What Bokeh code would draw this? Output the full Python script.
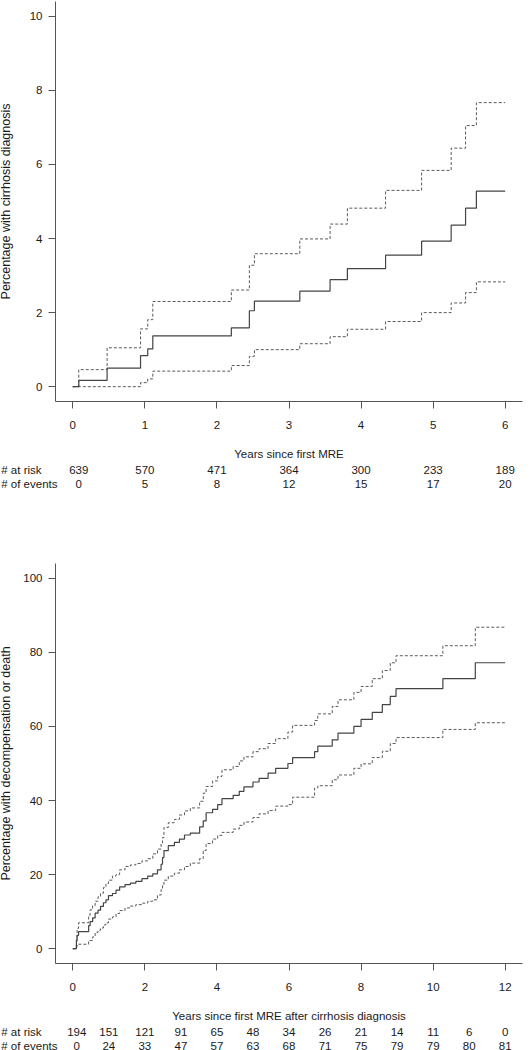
from bokeh.plotting import figure
from bokeh.layouts import column
from bokeh.models import Range1d, FactorRange, ColumnDataSource, FixedTicker
from bokeh.embed import file_html
from bokeh.resources import INLINE
from bokeh.core.properties import value

# ---------------- data: chart 1 (cirrhosis) ----------------
cirr_time = [0, 0.083, 0.476, 0.94, 1.04, 1.11, 2.20, 2.45, 2.52, 3.15, 3.57,
             3.81, 4.34, 4.84, 5.25, 5.45, 5.60, 6.0]
cirr_est = [0, 0.17, 0.50, 0.84, 1.02, 1.37, 1.59, 2.05, 2.31, 2.58, 2.89,
            3.19, 3.55, 3.93, 4.36, 4.82, 5.28, 5.28]
cirr_upper = [0, 0.46, 1.05, 1.56, 1.81, 2.30, 2.61, 3.28, 3.59, 3.99, 4.39,
              4.82, 5.30, 5.84, 6.44, 7.05, 7.67, 7.67]
cirr_lower = [0, 0, 0, 0.11, 0.21, 0.42, 0.57, 0.82, 1.00, 1.16, 1.35,
              1.55, 1.76, 2.00, 2.26, 2.54, 2.83, 2.83]
cirr_years = [0, 1, 2, 3, 4, 5, 6]
cirr_at_risk = [639, 570, 471, 364, 300, 233, 189]
cirr_events = [0, 5, 8, 12, 15, 17, 20]

# ---------------- data: chart 2 (decompensation or death) ----------------
dec_time = [0, 0.10, 0.12, 0.16, 0.44, 0.48, 0.55, 0.62, 0.70, 0.77, 0.85, 0.92,
            0.99, 1.10, 1.20, 1.30, 1.45, 1.60, 1.75, 1.92, 2.08, 2.22, 2.35,
            2.45, 2.49, 2.53, 2.65, 2.82, 2.96, 3.10, 3.26, 3.52, 3.62, 3.70,
            3.88, 4.02, 4.14, 4.45, 4.62, 4.75, 5.00, 5.17, 5.42, 5.63, 5.97,
            6.10, 6.71, 6.80, 7.20, 7.36, 7.80, 8.00, 8.31, 8.59, 8.81, 8.97,
            10.27, 11.17, 12.0]
dec_est = [0, 2.1, 3.6, 4.6, 6.2, 7.3, 8.3, 9.6, 10.4, 11.4, 12.4, 13.2, 14.3,
           14.9, 15.8, 16.7, 17.3, 17.7, 18.2, 18.9, 19.6, 20.2, 21.3, 22.8,
           24.6, 26.5, 27.8, 28.7, 29.6, 30.7, 31.2, 32.9, 34.5, 36.7, 37.6,
           38.9, 40.5, 41.4, 42.5, 43.7, 45.0, 46.0, 47.4, 48.7, 50.0, 51.6,
           53.2, 54.7, 56.4, 58.2, 60.0, 61.9, 63.8, 65.9, 68.1, 70.2, 72.9,
           77.2, 77.2]
dec_upper = [0, 3.0, 5.5, 7.0, 9.0, 10.5, 11.6, 12.8, 14.0, 15.0, 16.5, 17.6,
             18.5, 19.6, 20.0, 21.3, 22.2, 22.6, 23.0, 23.7, 24.3, 25.6, 26.9,
             28.5, 30.0, 32.7, 34.0, 34.9, 36.1, 37.2, 38.0, 39.8, 42.0, 43.8,
             45.3, 46.5, 48.3, 49.2, 50.7, 51.8, 53.2, 54.0, 55.4, 56.7, 58.5,
             60.3, 61.6, 63.4, 65.4, 67.2, 69.2, 70.8, 72.9, 75.1, 77.2, 79.1,
             81.8, 86.8, 86.8]
dec_lower = [0, 0.5, 1.2, 1.2, 2.2, 2.2, 3.2, 4.4, 5.0, 5.6, 6.4, 7.0, 8.0,
             8.6, 9.5, 10.3, 11.0, 11.5, 11.9, 12.3, 12.8, 13.2, 14.5, 16.0,
             17.2, 18.5, 19.6, 20.4, 21.3, 22.2, 23.1, 24.3, 26.5, 28.4, 29.6,
             30.6, 31.4, 32.3, 33.3, 34.2, 35.4, 36.4, 37.3, 38.5, 38.9, 40.9,
             43.4, 44.0, 45.6, 46.9, 48.7, 49.9, 51.6, 53.3, 55.4, 57.0, 59.2,
             61.0, 61.0]
dec_years = [0, 1, 2, 3, 4, 5, 6, 7, 8, 9, 10, 11, 12]
dec_at_risk = [194, 151, 121, 91, 65, 48, 34, 26, 21, 14, 11, 6, 0]
dec_events = [0, 24, 33, 47, 57, 63, 68, 71, 75, 79, 79, 80, 81]

# row titles; the no-break spaces pad the shorter one so both start flush left
row_labels = ["# at risk" + "\u00a0" * 5, "# of events"]

# ---------------- style / layout ----------------
FONT = "Liberation Sans"
PAGE = 8            # body margin that the layout is pulled back over
W = 540             # figure width (covers the page margin on the left)
LEFT = 63
RIGHT = 10
FRAME_H = 405
BOTTOM = 56
ROW_H = 28
TICK_FS = "11.5px"
TITLE_FS = "12.5px"
TXT = "#1a1a1a"
AXIS_C = "#555555"
SOLID_C = "#444444"
DASH_C = "#5a5a5a"


def km_chart(t, est, lo, hi, xmax, xstep, ymax, ystep, xlabel, ylabel,
             top, ylab_standoff):
    pad_x = 0.04 * xmax
    pad_y = 0.04 * ymax
    p = figure(width=W, height=top + FRAME_H + BOTTOM,
               x_range=Range1d(-pad_x, xmax + pad_x),
               y_range=Range1d(-pad_y, ymax + pad_y),
               output_backend="svg", toolbar_location=None,
               min_border_left=LEFT, min_border_right=RIGHT,
               min_border_top=top, min_border_bottom=BOTTOM)
    p.outline_line_color = None
    p.xgrid.visible = False
    p.ygrid.visible = False
    src = ColumnDataSource(dict(t=t, est=est, lo=lo, hi=hi))
    p.step("t", "hi", source=src, mode="after", line_color=DASH_C,
           line_width=1, line_dash="3 2")
    p.step("t", "lo", source=src, mode="after", line_color=DASH_C,
           line_width=1, line_dash="3 2")
    p.step("t", "est", source=src, mode="after", line_color=SOLID_C,
           line_width=1.2)

    p.xaxis.ticker = FixedTicker(ticks=list(range(0, int(xmax) + 1, xstep)))
    p.yaxis.ticker = FixedTicker(ticks=list(range(0, int(ymax) + 1, ystep)))
    for ax in (p.xaxis, p.yaxis):
        ax.axis_line_color = AXIS_C
        ax.major_tick_line_color = AXIS_C
        ax.minor_tick_line_color = None
        ax.major_tick_out = 7
        ax.major_tick_in = 0
        ax.major_label_text_font = FONT
        ax.major_label_text_font_size = TICK_FS
        ax.major_label_text_color = TXT
        ax.axis_label_text_font = FONT
        ax.axis_label_text_font_style = "normal"
        ax.axis_label_text_color = TXT
    p.xaxis.major_label_standoff = 12
    p.xaxis.axis_label = xlabel
    p.xaxis.axis_label_text_font_size = TICK_FS
    p.xaxis.axis_label_standoff = 16
    p.yaxis.axis_label = ylabel
    p.yaxis.axis_label_text_font_size = TITLE_FS
    p.yaxis.major_label_standoff = 6
    p.yaxis.axis_label_standoff = ylab_standoff
    return p


def risk_table(p, years, at_risk, events, first_shift):
    t = figure(width=W, height=ROW_H, x_range=p.x_range,
               y_range=FactorRange(factors=row_labels[::-1]),
               x_axis_type=None,
               output_backend="svg", toolbar_location=None,
               min_border_left=LEFT, min_border_right=RIGHT,
               min_border_top=0, min_border_bottom=0)
    t.grid.visible = False
    t.outline_line_color = None
    ax = t.yaxis
    ax.axis_line_color = None
    ax.major_tick_line_color = None
    ax.major_tick_out = 0
    ax.major_tick_in = 0
    ax.major_label_standoff = -2
    ax.major_label_text_font = FONT
    ax.major_label_text_font_size = TICK_FS
    ax.major_label_text_color = TXT
    n = len(years)
    src = ColumnDataSource(dict(
        x=list(years) * 2,
        y=[row_labels[0]] * n + [row_labels[1]] * n,
        txt=[str(v) for v in at_risk] + [str(v) for v in events],
        off=([first_shift] + [0] * (n - 1)) * 2))
    t.text(x="x", y="y", text="txt", x_offset="off", source=src,
           text_align="center", text_baseline="middle",
           text_font=value(FONT), text_font_size=TICK_FS, text_color=TXT)
    return t


p1 = km_chart(cirr_time, cirr_est, cirr_lower, cirr_upper, 6, 1, 10, 2,
              "Years since first MRE", "Percentage with cirrhosis diagnosis",
              9, 14)
t1 = risk_table(p1, cirr_years, cirr_at_risk, cirr_events, 6)
p2 = km_chart(dec_time, dec_est, dec_lower, dec_upper, 12, 2, 100, 20,
              "Years since first MRE after cirrhosis diagnosis",
              "Percentage with decompensation or death", 73, 7)
t2 = risk_table(p2, dec_years, dec_at_risk, dec_events, 4)

layout = column(p1, t1, p2, t2, spacing=0, margin=(-PAGE, -16, -20, -PAGE))
open("out.html", "w").write(file_html(layout, INLINE))
